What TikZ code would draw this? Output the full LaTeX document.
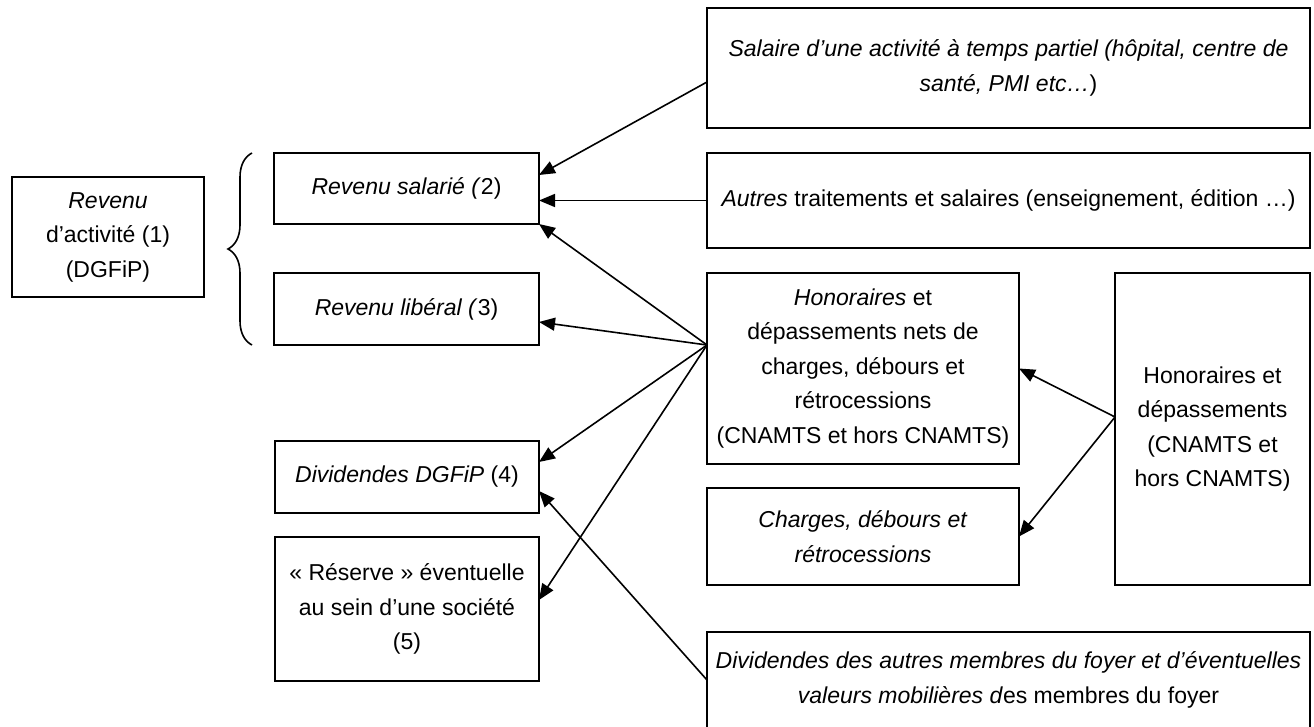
\documentclass[tikz,border=0pt]{standalone}
\usepackage{fontspec}
\setmainfont{Liberation Sans}
\usepackage{tikz}
\usetikzlibrary{arrows.meta,positioning,calc,decorations.pathreplacing}

\begin{document}
\begin{tikzpicture}[x=0.5pt,y=-0.5pt,>={Triangle[length=8pt,width=6.5pt]}, every node/.style={font=\fontsize{11.5}{17.25}\selectfont}]
\tikzstyle{box}=[draw,line width=1pt,align=center,inner sep=2pt,outer sep=0pt]
\tikzstyle{arr}=[->,line width=0.8pt]
\useasboundingbox (0,0) rectangle (1314,727);
% left column
\node[box,minimum width=96pt,minimum height=60pt] (act) at (108,237) {\textit{Revenu}\\d’activité (1)\\(DGFiP)};
\node[box,minimum width=132.5pt,minimum height=35.5pt] (sal) at (406.5,188.5) {\textit{Revenu salarié (}2)};
\node[box,minimum width=132.5pt,minimum height=36pt] (lib) at (406.5,309) {\textit{Revenu libéral (}3)};
\node[box,minimum width=132pt,minimum height=36pt] (div) at (407,477) {\textit{Dividendes DGFiP} (4)};
\node[box,minimum width=132pt,minimum height=72pt] (res) at (407,609) {«~Réserve~» éventuelle\\au sein d’une société\\(5)};
% right column
\node[box,minimum width=301.5pt,minimum height=60pt] (tp) at (1008.5,68) {\textit{Salaire d’une activité à temps partiel (hôpital, centre de}\\\textit{santé, PMI etc…})};
\node[box,minimum width=301.5pt,minimum height=47.5pt] (aut) at (1008.5,200.5) {\textit{Autres} traitements et salaires (enseignement, édition …)};
\node[box,minimum width=156pt,minimum height=95.5pt] (hon) at (863,368.5) {\textit{Honoraires} et\\dépassements nets de\\charges, débours et\\rétrocessions\\(CNAMTS et hors CNAMTS)};
\node[box,minimum width=156pt,minimum height=48.5pt] (chg) at (863,536.5) {\textit{Charges, débours et}\\\textit{rétrocessions}};
\node[box,minimum width=97.5pt,minimum height=156pt] (hd) at (1212.5,429) {Honoraires et\\dépassements\\(CNAMTS et\\hors CNAMTS)};
\node[box,minimum width=301.5pt,minimum height=48pt] (dm) at (1008.5,680) {\textit{Dividendes des autres membres du foyer et d’éventuelles}\\\textit{valeurs mobilières d}es membres du foyer};
% brace
\draw[line width=0.8pt,decorate,decoration={brace,amplitude=12pt}] ([xshift=-11pt]lib.south west) -- ([xshift=-11pt]sal.north west);
% arrows
\coordinate (hsrc) at ([yshift=11.75pt]hon.west);
\coordinate (hdsrc) at ([yshift=6pt]hd.west);
\draw[arr] ([yshift=-7pt]tp.west) -- ([yshift=6.75pt]sal.east);
\draw[arr] (aut.west) -- (aut.west -| sal.east);
\draw[arr] (hsrc) -- (sal.south east);
\draw[arr] (hsrc) -- ([yshift=-6.5pt]lib.east);
\draw[arr] (hsrc) -- ([yshift=7.5pt]div.east);
\draw[arr] (hsrc) -- ([yshift=4.5pt]res.east);
\draw[arr] (dm.west) -- ([yshift=-7pt]div.east);
\draw[arr] (hdsrc) -- (hon.east);
\draw[arr] (hdsrc) -- (chg.east);
\end{tikzpicture}
\end{document}
